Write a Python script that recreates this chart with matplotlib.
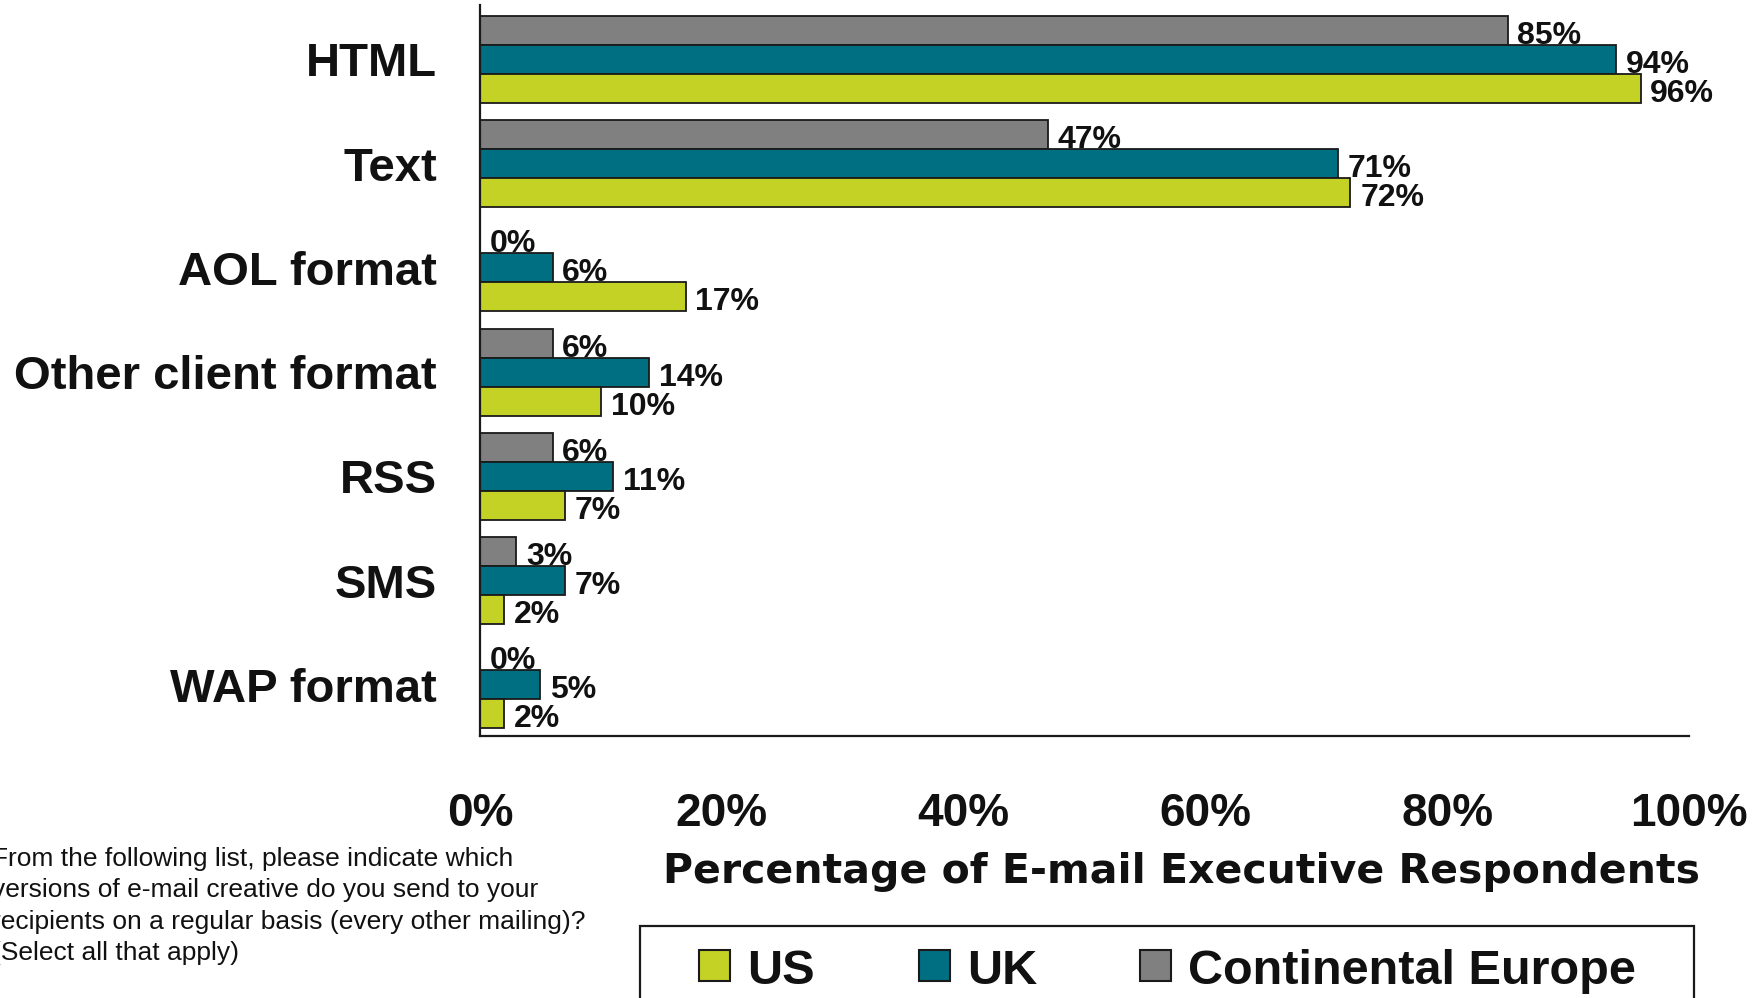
import numpy as np
import matplotlib.pyplot as plt
from matplotlib.patches import Rectangle

# survey answers, % of respondents
categories = ['HTML', 'Text', 'AOL format', 'Other client format', 'RSS', 'SMS', 'WAP format']
europe = [85, 47, 0, 6, 6, 3, 0]
uk = [94, 71, 6, 14, 11, 7, 5]
us = [96, 72, 17, 10, 7, 2, 2]
series_names = ['US', 'UK', 'Continental Europe']
xticks = [0, 20, 40, 60, 80, 100]

col_us = '#c4d125'
col_uk = '#006f82'
col_eu = '#808080'
ink = '#111111'

W, H = 1765, 998
plt.rcParams['font.family'] = ['Liberation Sans', 'DejaVu Sans']

fig = plt.figure(figsize=(W / 100, H / 100), dpi=100)
ax = fig.add_axes([480 / W, 1 - 736 / H, (1689 - 480) / W, (736 - 5) / H])

def fx(px):
    return px / W

def fy(py):
    return 1 - py / H

y = np.arange(len(categories))
h = 0.278
# grey on top, teal in the middle, yellow at the bottom of each group
for vals, off, col in [(europe, -h, col_eu), (uk, 0, col_uk), (us, h, col_us)]:
    bars = ax.barh(y + off, vals, height=h, color=col, edgecolor='#1a1a1a', linewidth=1.3, zorder=2)
    for b, v in zip(bars, vals):
        ax.annotate('%d%%' % v, (v, b.get_y() + h / 2), xytext=(7, -1.5), textcoords='offset points',
                    ha='left', va='center_baseline', fontsize=23, fontweight='bold', color=ink)

ax.set_xlim(0, 100)
ax.set_ylim(6.49, -0.52)
ax.set_xticks(xticks)
ax.set_xticklabels(['%d%%' % t for t in xticks], fontsize=33, fontweight='bold', color=ink)
ax.set_yticks(y)
ax.set_yticklabels(categories, fontsize=34, fontweight='bold', color=ink)
ax.tick_params(axis='x', length=0, pad=40)
ax.tick_params(axis='y', length=0, pad=31)
for s in ['top', 'right']:
    ax.spines[s].set_visible(False)
for s in ['left', 'bottom']:
    ax.spines[s].set_linewidth(1.6)
    ax.spines[s].set_color('#1a1a1a')

fig.text(fx(1182), fy(872), 'Percentage of E-mail Executive Respondents', ha='center', va='center',
         fontsize=29.5, fontweight='bold', color=ink, family='DejaVu Sans')

question = ('From the following list, please indicate which\n'
            'versions of e-mail creative do you send to your\n'
            'recipients on a regular basis (every other mailing)?\n'
            '(Select all that apply)')
fig.text(fx(-8), fy(906), question, ha='left', va='center', fontsize=19, color=ink, linespacing=1.4)

# legend box, its bottom edge runs off the page
fig.patches.append(Rectangle((fx(640), fy(1010)), fx(1694) - fx(640), fy(926) - fy(1010),
                             transform=fig.transFigure, facecolor='white', edgecolor='#1a1a1a',
                             linewidth=1.6))
for name, col, px, tx in zip(series_names, [col_us, col_uk, col_eu], [699, 919, 1140], [747, 967, 1188]):
    fig.patches.append(Rectangle((fx(px), fy(981)), fx(31), 31 / H, transform=fig.transFigure,
                                 facecolor=col, edgecolor='#1a1a1a', linewidth=1.5))
    fig.text(fx(tx), fy(966), name, ha='left', va='center_baseline', fontsize=35,
             fontweight='bold', color=ink)

fig.savefig('out.png', dpi=100)
